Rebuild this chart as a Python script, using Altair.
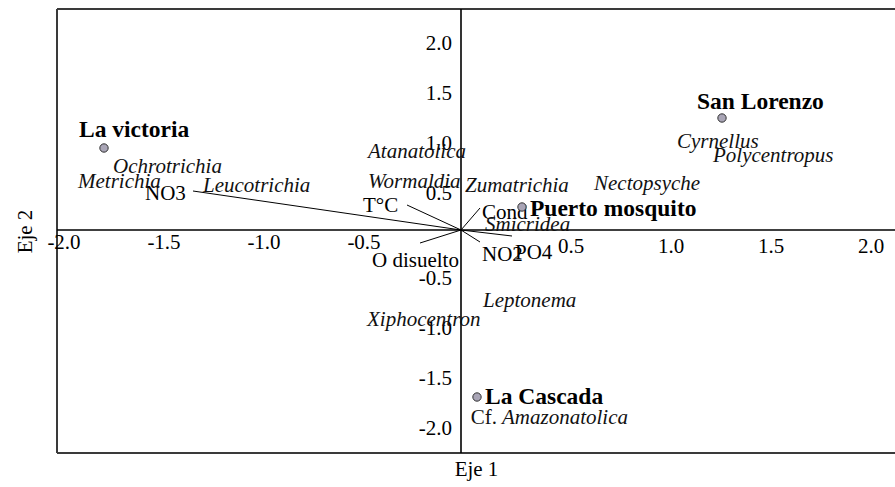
import altair as alt
import pandas as pd

# Ordination extents (axis units)
X_MIN, X_MAX = -2.02, 2.17
Y_MIN, Y_MAX = -2.23, 2.21

# Sampling sites: scores and label anchors
sites = ["La victoria", "San Lorenzo", "Puerto mosquito", "La Cascada"]
site_x = [-1.785, 1.305, 0.305, 0.08]
site_y = [0.82, 1.12, 0.23, -1.67]
site_label_x = [-1.91, 1.18, 0.345, 0.12]
site_label_y = [0.93, 1.21, 0.14, -1.74]

# Trichoptera genera scores
taxa = ["Ochrotrichia", "Metrichia", "Leucotrichia", "Atanatolica", "Wormaldia",
        "Zumatrichia", "Nectopsyche", "Cyrnellus", "Polycentropus", "Smicridea",
        "Leptonema", "Xiphocentron", "Amazonatolica"]
taxa_prefix = ["", "", "", "", "", "", "", "", "", "", "", "", "Cf."]
taxa_x = [-1.74, -1.915, -1.29, -0.465, -0.465, 0.02, 0.665, 1.08, 1.26, 0.12,
          0.11, -0.47, 0.205]
taxa_y = [0.57, 0.42, 0.38, 0.72, 0.42, 0.38, 0.40, 0.82, 0.68, -0.01,
          -0.77, -0.96, -1.94]

# Environmental variables: arrow tips and label anchors
env_vars = ["NO3", "T°C", "Cond", "O disuelto", "NO2", "PO4"]
env_x = [-1.34, -0.27, 0.095, -0.205, 0.095, 0.255]
env_y = [0.39, 0.25, 0.22, -0.13, -0.12, -0.06]
env_label_x = [-1.58, -0.49, 0.105, -0.445, 0.105, 0.27]
env_label_y = [0.30, 0.18, 0.11, -0.37, -0.31, -0.29]

# Tick values written along the central axes
ticks = [-2.0, -1.5, -1.0, -0.5, 0.5, 1.0, 1.5, 2.0]

FONT = "Liberation Serif"

site_df = pd.DataFrame({"site": sites, "x": site_x, "y": site_y,
                        "lx": site_label_x, "ly": site_label_y})
taxa_df = pd.DataFrame({"taxon": taxa, "prefix": taxa_prefix, "x": taxa_x, "y": taxa_y})
env_df = pd.DataFrame({"var": env_vars, "x0": 0.0, "y0": 0.0, "x": env_x, "y": env_y,
                       "lx": env_label_x, "ly": env_label_y})
tick_df = pd.DataFrame({"v": ticks, "zero": 0.0, "label": [f"{t:.1f}" for t in ticks]})

xs = alt.Scale(domain=[X_MIN, X_MAX], nice=False, zero=False)
ys = alt.Scale(domain=[Y_MIN, Y_MAX], nice=False, zero=False)
x_axis = alt.Axis(title="Eje 1", labels=False, ticks=False, domain=False, grid=False,
                  titleFont=FONT, titleFontSize=21, titleFontWeight="normal",
                  titleColor="black", titlePadding=5)
y_axis = alt.Axis(title="Eje 2", labels=False, ticks=False, domain=False, grid=False,
                  titleFont=FONT, titleFontSize=21, titleFontWeight="normal",
                  titleColor="black", titlePadding=22)

# Frame: left, top and bottom edges
frame_left = alt.Chart(pd.DataFrame({"x": [X_MIN]})).mark_rule(
    color="#3a3a3a", strokeWidth=2).encode(
    x=alt.X("x:Q", scale=xs, axis=x_axis))
frame_tb = alt.Chart(pd.DataFrame({"y": [Y_MIN, Y_MAX]})).mark_rule(
    color="#3a3a3a", strokeWidth=2).encode(
    y=alt.Y("y:Q", scale=ys, axis=y_axis))

# Central axes through the origin
axis_v = alt.Chart(pd.DataFrame({"x": [0.0]})).mark_rule(
    color="black", strokeWidth=1.6).encode(x=alt.X("x:Q", scale=xs))
axis_h = alt.Chart(pd.DataFrame({"y": [0.0]})).mark_rule(
    color="black", strokeWidth=1.6).encode(y=alt.Y("y:Q", scale=ys))

tick_text = dict(font=FONT, fontSize=21, color="black", baseline="alphabetic")
xt_neg = alt.Chart(tick_df).transform_filter("datum.v < 0").mark_text(
    align="center", dx=3, dy=19, **tick_text).encode(
    x=alt.X("v:Q", scale=xs), y=alt.Y("zero:Q", scale=ys), text="label:N")
xt_pos = alt.Chart(tick_df).transform_filter("datum.v > 0").mark_text(
    align="center", dx=10, dy=23, **tick_text).encode(
    x=alt.X("v:Q", scale=xs), y=alt.Y("zero:Q", scale=ys), text="label:N")
yt_pos = alt.Chart(tick_df).transform_filter("datum.v > 0").mark_text(
    align="right", dx=-9, dy=20, **tick_text).encode(
    x=alt.X("zero:Q", scale=xs), y=alt.Y("v:Q", scale=ys), text="label:N")
yt_neg = alt.Chart(tick_df).transform_filter("datum.v < 0").mark_text(
    align="right", dx=-9, dy=5, **tick_text).encode(
    x=alt.X("zero:Q", scale=xs), y=alt.Y("v:Q", scale=ys), text="label:N")

# Environmental vectors
env_lines = alt.Chart(env_df).mark_rule(color="black", strokeWidth=1).encode(
    x=alt.X("x0:Q", scale=xs), y=alt.Y("y0:Q", scale=ys), x2="x:Q", y2="y:Q")
env_text = alt.Chart(env_df).mark_text(
    font=FONT, fontSize=21, color="black", align="left", baseline="alphabetic").encode(
    x=alt.X("lx:Q", scale=xs), y=alt.Y("ly:Q", scale=ys), text="var:N")

# Genera
taxa_text = alt.Chart(taxa_df).mark_text(
    font=FONT, fontSize=21, fontStyle="italic", color="#111111",
    align="left", baseline="alphabetic").encode(
    x=alt.X("x:Q", scale=xs), y=alt.Y("y:Q", scale=ys), text="taxon:N")
taxa_prefix_text = alt.Chart(taxa_df).transform_filter("datum.prefix != ''").mark_text(
    font=FONT, fontSize=21, color="#111111", align="right", baseline="alphabetic", dx=-5).encode(
    x=alt.X("x:Q", scale=xs), y=alt.Y("y:Q", scale=ys), text="prefix:N")

# Sites
site_pts = alt.Chart(site_df).mark_point(
    filled=True, shape="circle", size=70, fill="#a9a5b6", stroke="#333333",
    strokeWidth=1, opacity=1).encode(
    x=alt.X("x:Q", scale=xs), y=alt.Y("y:Q", scale=ys))
site_text = alt.Chart(site_df).mark_text(
    font=FONT, fontSize=23.5, fontWeight="bold", color="black",
    align="left", baseline="alphabetic").encode(
    x=alt.X("lx:Q", scale=xs), y=alt.Y("ly:Q", scale=ys), text="site:N")

chart = alt.layer(
    frame_left, frame_tb, axis_v, axis_h,
    env_lines, xt_neg, xt_pos, yt_pos, yt_neg,
    env_text, taxa_text, taxa_prefix_text, site_pts, site_text,
).properties(
    width=838, height=444,
    autosize=alt.AutoSizeParams(type="none"),
    padding={"left": 57, "top": 9, "right": 0, "bottom": 34},
    background="white",
).configure_view(stroke=None)

chart.save("out.html", embed_options={"renderer": "svg", "actions": False})
